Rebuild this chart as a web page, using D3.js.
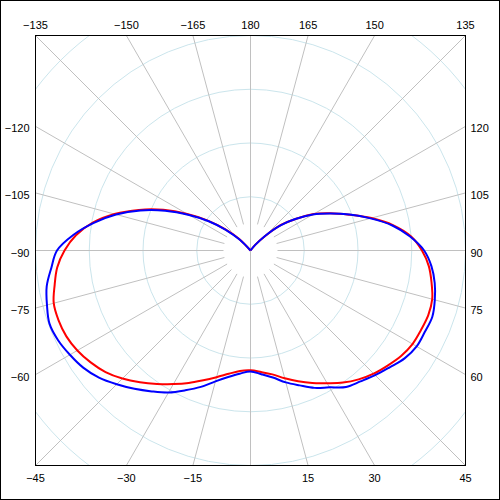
<!DOCTYPE html>
<html>
<head>
<meta charset="utf-8">
<script src="https://cdn.jsdelivr.net/npm/d3@7"></script>
<style>
	body { margin: 0; background: #fff; }
	svg { display: block; }
</style>
</head>
<body>
<div id="chart"></div>
<script>
//angles in degrees, 0 = down, 90 = right, 180 = up
let angles = d3.range(-180, 180, 5);

//red series (dB), -180 .. 175 step 5
let redValues = [
	-45, -45, -45, -45, -45, -45, -45, -45,
	-40, -36.8, -33.9, -30.3, -26.4, -22.1, -17.9, -13.8, -10.2, -7.4,
	-5.4, -3.9, -3.0, -2.1, -2.0, -2.2, -2.8, -3.7, -4.8, -6.3,
	-8.0, -9.7, -11.3, -12.8, -14.3, -15.6, -16.7, -17.5,
	-17.7,
	-17.3, -16.6, -15.4, -14.1, -12.8, -11.5, -10.0, -8.7, -7.6,
	-6.7, -5.8, -5.2, -5.0, -4.8, -5.0, -5.8, -6.7, -8.1,
	-10.0, -13.0, -16.7, -20.5, -23.6, -26.4, -29.8, -32.6, -36.3, -38.5,
	-45, -45, -45, -45, -45, -45, -45
];

//blue series (dB), -180 .. 175 step 5
let blueValues = [
	-45, -45, -45, -45, -45, -45, -45, -45,
	-40, -37.2, -34.0, -30.5, -26.8, -22.5, -18.2, -14.1, -10.4, -6.9,
	-4.0, -2.8, -1.5, -0.8, -0.2, -0.5, -1.2, -2.0, -3.2, -4.8,
	-6.4, -8.0, -9.5, -11.3, -13.0, -14.8, -16.1, -17.0,
	-17.5,
	-16.9, -16.0, -14.6, -13.3, -11.8, -10.6, -9.0, -8.2, -7.2,
	-6.2, -5.0, -4.3, -4.2, -4.0, -4.5, -5.2, -6.2, -7.7,
	-10.2, -13.2, -16.9, -20.4, -23.7, -26.6, -29.8, -32.7, -36.1, -38.7,
	-45, -45, -45, -45, -45, -45, -45
];

//grid
let ringLevels = [-30, -20, -10, 0, 10];
let spokeAngles = d3.range(-165, 195, 15);
let labelAngles = [-165, -150, -135, -120, -105, -90, -75, -60, -45, -30, -15,
	15, 30, 45, 60, 75, 90, 105, 120, 135, 150, 165, 180];

//chart constants
let W = 500, H = 500;
let plotLeft = 35.5, plotTop = 35.5, size = 430;
let cx = plotLeft + size / 2, cy = plotTop + size / 2, half = size / 2;

let svg = d3.select("#chart")
	.append("svg")
	.attr("width", W)
	.attr("height", H);

svg.append("rect")
	.attr("x", 0.5).attr("y", 0.5)
	.attr("width", W - 1).attr("height", H - 1)
	.attr("fill", "#fff")
	.attr("stroke", "#000");

svg.append("clipPath")
	.attr("id", "plotClip")
	.append("rect")
	.attr("x", plotLeft).attr("y", plotTop)
	.attr("width", size).attr("height", size);

let rGrid = d3.scaleLinear().domain([-40, 0]).range([0, half]);
let r = rGrid.copy().clamp(true);
let rad = function(a) { return a * Math.PI / 180; };

//clip in page coords, then move origin to the pole
let g = svg.append("g")
	.attr("clip-path", "url(#plotClip)")
	.append("g")
	.attr("transform", "translate(" + cx + "," + cy + ")");

//rings
g.selectAll(".ring")
	.data(ringLevels)
	.enter()
	.append("circle")
	.attr("class", "ring")
	.attr("r", function(d) { return rGrid(d); })
	.attr("fill", "none")
	.attr("stroke", "#cbe5ec")
	.attr("stroke-width", 1);

//spokes
g.selectAll(".spoke")
	.data(spokeAngles)
	.enter()
	.append("line")
	.attr("class", "spoke")
	.attr("x1", function(d) { let r0 = (d % 180 == 0) ? 0 : 27; return r0 * Math.sin(rad(d)); })
	.attr("y1", function(d) { let r0 = (d % 180 == 0) ? 0 : 27; return r0 * Math.cos(rad(d)); })
	.attr("x2", function(d) { return 400 * Math.sin(rad(d)); })
	.attr("y2", function(d) { return 400 * Math.cos(rad(d)); })
	.attr("stroke", "#c0c0c0")
	.attr("stroke-width", 1);

//series lines, lineRadial angle = 180 - theta
let line = d3.lineRadial()
	.angle(function(d) { return Math.PI - rad(d[0]); })
	.radius(function(d) { return r(d[1]); })
	.curve(d3.curveCatmullRomClosed);

g.append("path")
	.datum(d3.zip(angles, redValues))
	.attr("d", line)
	.attr("fill", "none")
	.attr("stroke", "#ff0000")
	.attr("stroke-width", 2);

g.append("path")
	.datum(d3.zip(angles, blueValues))
	.attr("d", line)
	.attr("fill", "none")
	.attr("stroke", "#0000ff")
	.attr("stroke-width", 2);

//frame
svg.append("rect")
	.attr("x", plotLeft).attr("y", plotTop)
	.attr("width", size).attr("height", size)
	.attr("fill", "none")
	.attr("stroke", "#000");

//angle labels where spokes meet the frame
let fmt = function(d) { return d < 0 ? "\u2212" + (-d) : "" + d; };
svg.selectAll(".lbl")
	.data(labelAngles)
	.enter()
	.append("text")
	.attr("class", "lbl")
	.style("font", "11px Arial, 'Liberation Sans', sans-serif")
	.attr("fill", "#000")
	.each(function(d) {
		let s = Math.sin(rad(d)), c = Math.cos(rad(d));
		let t = d3.select(this);
		if (Math.abs(c) >= Math.abs(s) - 1e-9) {
			let x = cx + half * s / Math.abs(c);
			t.attr("x", x).attr("text-anchor", "middle")
				.attr("y", c < 0 ? plotTop - 6.5 : plotTop + size + 16.5);
		} else {
			let y = cy + half * c / Math.abs(s);
			t.attr("y", y + 6)
				.attr("x", s < 0 ? plotLeft - 6 : plotLeft + size + 5)
				.attr("text-anchor", s < 0 ? "end" : "start");
		}
	})
	.text(fmt);
</script>
</body>
</html>
